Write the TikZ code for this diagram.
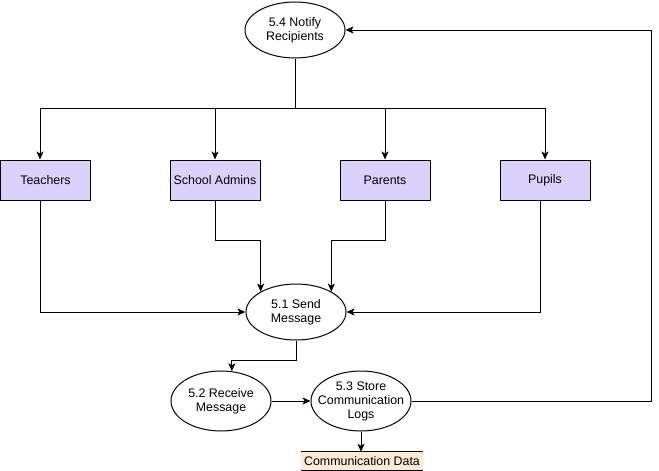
\documentclass[tikz,border=0pt]{standalone}
\usepackage{fontspec}
\setmainfont{Liberation Sans}
\usetikzlibrary{arrows.meta,shapes.geometric}
\definecolor{entityfill}{HTML}{DAD2FA}
\definecolor{storefill}{HTML}{FDEBD4}
\begin{document}
\begin{tikzpicture}[x=1pt,y=-1pt,
  font=\fontsize{12.4}{14}\selectfont,
  proc/.style={ellipse,draw,line width=1pt,minimum width=100pt,minimum height=56pt,
    inner sep=0pt,label={[align=center]center:#1}},
  ent/.style={rectangle,draw,fill=entityfill,line width=1pt,minimum width=90pt,
    minimum height=40pt,inner sep=0pt},
  datastore/.style={rectangle,fill=storefill,minimum width=122pt,minimum height=18pt,inner sep=0pt},
  wire/.style={line width=1pt},
  flow/.style={line width=1pt,-{Stealth[length=8pt,width=7pt,inset=2pt]}}]
\useasboundingbox (0,0) rectangle (659,471);

% processes
\node[proc={5.4 Notify\\Recipients}] (notify) at (295,30) {};
\node[proc={5.1 Send\\Message}] (send) at (296,312) {};
\node[proc={5.2 Receive\\Message},minimum height=60pt] (receive) at (221,401) {};
\node[proc={5.3 Store\\Communication\\Logs},minimum height=60pt] (store) at (361,401) {};

% external entities
\node[ent] (teach) at (45.5,180) {Teachers};
\node[ent] (admins) at (215,180) {School Admins};
\node[ent] (parents) at (385,180) {Parents};
\node[ent] (pupils) at (545,180) {Pupils};

% data store
\node[datastore] (data) at (362,461) {Communication Data};
\draw[wire] (data.north west) -- (data.north east);
\draw[wire] (data.south west) -- (data.south east);

% distribution bus from the notification process
\coordinate (busL) at (40,108);
\coordinate (busR) at (545,108);
\draw[wire] (notify.south) -- (notify.south |- busL);
\draw[wire] (busL) -- (busR);
\draw[flow] (busL) -- (busL |- teach.north);
\draw[flow] (admins.north |- busL) -- (admins.north);
\draw[flow] (parents.north |- busL) -- (parents.north);
\draw[flow] (busR) -- (pupils.north);

% entities send messages
\coordinate (joinY) at (0,240);
\coordinate (pupilOut) at (540,0);
\draw[flow] (busL |- teach.south) |- (send.west);
\draw[flow] (admins.south) -- (admins.south |- joinY) -| (send.150);
\draw[flow] (parents.south) -- (parents.south |- joinY) -| (send.30);
\draw[flow] (pupilOut |- pupils.south) |- (send.east);

% message processing chain
\draw[flow] (send.south) -- ++(0,20) -| (receive.70);
\draw[flow] (receive.east) -- (store.west);
\draw[flow] (store.south) -- (store.south |- data.north);

% feedback to notification
\coordinate (rail) at (651,30);
\draw[flow] (store.east) -| (rail) -- (notify.east);
\end{tikzpicture}
\end{document}
